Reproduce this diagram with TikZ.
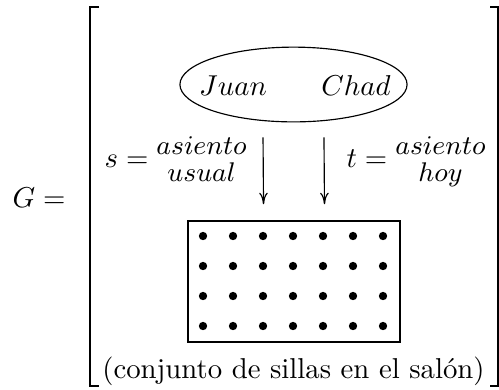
\RequirePackage{fix-cm}
\documentclass[tikz,border=0pt]{standalone}
\usepackage{amsmath}
\usepackage{tikz}
\usetikzlibrary{arrows.meta, positioning, shapes.geometric}

\newcommand{\apilar}[2]{\raisebox{-1pt}{$\vcenter{\hbox{\fontsize{9.4}{8.7}\selectfont
  \begin{tabular}{@{}c@{}}$#1$\\$#2$\end{tabular}}}$}}

\begin{document}
\begin{tikzpicture}[x=0.3478pt, y=-0.3478pt,
    etiqueta/.style={inner sep=0pt, anchor=base west},
    corchete/.style={line width=0.7pt},
    flecha/.style={-{To[length=4pt, width=3pt]}, line width=0.4pt},
    silla/.style={fill=black}]
  \useasboundingbox (0,0) rectangle (499,389);

  \node[etiqueta] (g) at (12,207.5) {$G=$};

  % corchetes
  \draw[corchete] (99,7) -- (90,7) -- (90,386) -- (99,386);
  \draw[corchete] (490,7) -- (498,7) -- (498,386) -- (490,386);

  \node[draw, ellipse, line width=0.4pt, minimum width=79pt,
        minimum height=26pt, inner sep=0pt] (pareja) at (293.5,84.5) {};
  \node[inner sep=0pt, anchor=base] (juan) at (233,95) {$Juan$};
  \node[inner sep=0pt, anchor=base] (chad) at (356,95) {$Chad$};

  \node[draw, line width=0.45pt, minimum width=73.7pt, minimum height=42.1pt,
        inner sep=0pt] (salon) at (294,281.5) {};
  \foreach \i in {0,...,6}
    \foreach \j in {0,...,3}
      \fill[silla] (203+30*\i, 236+30*\j) circle (1.45pt);

  \draw[flecha] ([xshift=-10.6pt, yshift=-5.2pt]pareja.south)
    -- ([xshift=-10.6pt, yshift=5.6pt]salon.north);
  \draw[flecha] ([xshift=10.6pt, yshift=-5.2pt]pareja.south)
    -- ([xshift=10.6pt, yshift=5.6pt]salon.north);

  \node[etiqueta] (s) at (104,167) {$s=\apilar{asiento}{usual}$};
  \node[etiqueta] (t) at (346,167) {$t=\apilar{asiento}{hoy}$};

  \node[inner sep=0pt, anchor=base] (leyenda) at (293.5,378)
    {(conjunto de sillas en el sal\'on)};
\end{tikzpicture}
\end{document}
